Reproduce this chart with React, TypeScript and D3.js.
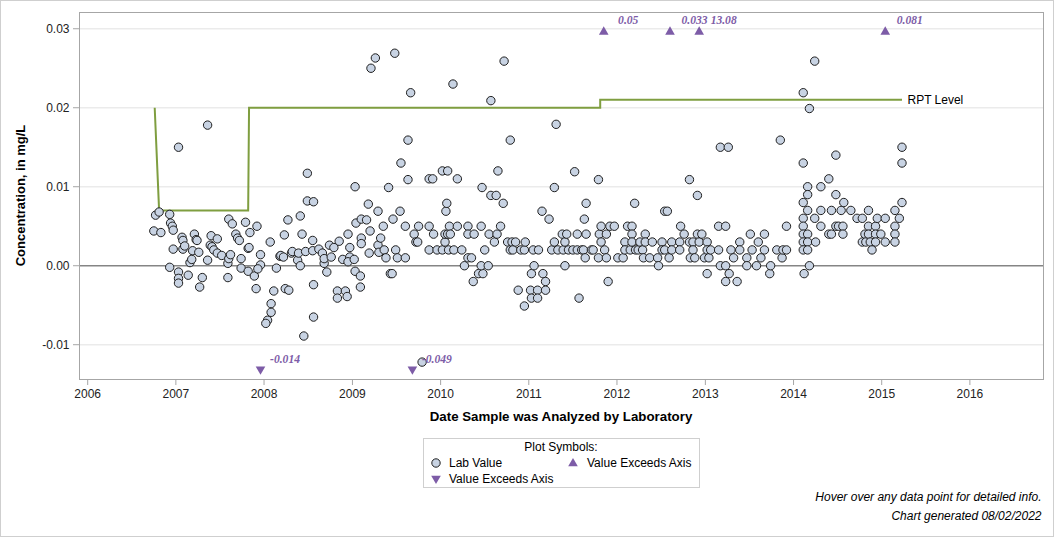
import * as React from "react";
import { scaleTime, scaleLinear, line, timeYear, timeFormat, symbol, symbolTriangle } from "d3";

// lab values: [decimal year analyzed, concentration mg/L]
const lab2006 = [
  [2006.75, 0.0044], [2006.77, 0.0064], [2006.81, 0.0068], [2006.83, 0.0042], [2006.93, 0.0065],
  [2006.94, 0.0054], [2006.96, 0.005], [2006.97, 0.0045], [2006.97, 0.0021], [2006.93, -0.0002],
];
const lab2007 = [
  [2007.03, -0.0008], [2007.03, -0.0016], [2007.03, -0.0022], [2007.03, 0.015], [2007.07, 0.0036],
  [2007.08, 0.0032], [2007.08, 0.0021], [2007.1, 0.0025], [2007.14, -0.0012], [2007.21, 0.004],
  [2007.23, 0.0033], [2007.24, 0.0032], [2007.19, 0.0019], [2007.16, 0.0004], [2007.18, 0.0008],
  [2007.26, 0.0017], [2007.3, -0.0015], [2007.27, -0.0027], [2007.36, 0.0007], [2007.36, 0.0178],
  [2007.4, 0.0038], [2007.47, 0.0034], [2007.39, 0.0026], [2007.41, 0.0024], [2007.43, 0.002],
  [2007.47, 0.0016], [2007.52, 0.0013], [2007.6, 0.0059], [2007.64, 0.0053], [2007.59, 0.0003],
  [2007.59, -0.0015], [2007.6, 0.0009], [2007.62, 0.0014], [2007.68, 0.004], [2007.7, 0.0035],
  [2007.72, 0.0032], [2007.74, 0.0009], [2007.74, -0.0003], [2007.79, 0.0055], [2007.84, 0.0042],
  [2007.82, 0.0022], [2007.83, 0.0023], [2007.82, -0.0007], [2007.92, 0.005], [2007.89, -0.0013],
  [2007.91, -0.0029], [2007.96, 0.0014], [2007.96, 0.0001], [2007.93, -0.0004],
];
const lab2008 = [
  [2008.07, 0.003], [2008.11, -0.0032], [2008.14, -0.0003], [2008.08, -0.0048], [2008.08, -0.0059],
  [2008.04, -0.0069], [2008.02, -0.0073], [2008.18, 0.0012], [2008.19, 0.0013], [2008.22, 0.0011],
  [2008.23, 0.0039], [2008.27, 0.0058], [2008.24, -0.0029], [2008.28, -0.0031], [2008.31, 0.0016],
  [2008.32, 0.0018], [2008.38, 0.0007], [2008.39, 0.0016], [2008.41, 0.0063], [2008.43, 0.004],
  [2008.41, 0.0], [2008.45, -0.0089], [2008.47, 0.0018], [2008.49, 0.0117], [2008.49, 0.0082],
  [2008.56, 0.0081], [2008.55, 0.0032], [2008.55, 0.0019], [2008.56, -0.0024], [2008.56, -0.0065],
  [2008.62, 0.0021], [2008.66, 0.0016], [2008.68, 0.0003], [2008.68, 0.0009], [2008.71, -0.0008],
  [2008.74, 0.0026], [2008.76, 0.0011], [2008.79, 0.0023], [2008.85, 0.0031], [2008.83, -0.0032],
  [2008.83, -0.0041], [2008.89, 0.0008], [2008.92, -0.0032], [2008.94, -0.0039], [2008.95, 0.004],
  [2008.97, 0.0023], [2008.97, 0.0011], [2008.95, 0.0005],
];
const lab2009 = [
  [2009.02, 0.0008], [2009.03, -0.0007], [2009.03, 0.01], [2009.04, 0.0054], [2009.09, -0.0013],
  [2009.09, -0.0027], [2009.1, 0.0059], [2009.16, 0.0058], [2009.1, 0.0035], [2009.1, 0.0028],
  [2009.18, 0.0078], [2009.2, 0.0044], [2009.19, 0.0016], [2009.21, 0.025], [2009.26, 0.0263],
  [2009.29, 0.0069], [2009.29, 0.0026], [2009.32, 0.0035], [2009.3, 0.0017], [2009.35, 0.005],
  [2009.36, 0.002], [2009.38, 0.001], [2009.41, 0.0099], [2009.43, -0.001], [2009.45, -0.001],
  [2009.46, 0.0059], [2009.48, 0.0269], [2009.49, 0.002], [2009.51, 0.001], [2009.54, 0.0069],
  [2009.55, 0.013], [2009.6, 0.005], [2009.6, 0.001], [2009.63, 0.0109], [2009.63, 0.0159],
  [2009.66, 0.0219], [2009.7, 0.004], [2009.75, 0.005], [2009.72, 0.003], [2009.74, 0.003],
  [2009.79, -0.0122], [2009.87, 0.002], [2009.87, 0.005], [2009.87, 0.011], [2009.91, 0.011],
  [2009.92, 0.004], [2009.96, 0.002],
];
const lab2010 = [
  [2010.02, 0.012], [2010.02, 0.002], [2010.05, 0.003], [2010.05, 0.004], [2010.06, 0.0069],
  [2010.07, 0.0079], [2010.08, 0.012], [2010.08, 0.004], [2010.09, 0.002], [2010.1, 0.005],
  [2010.11, 0.004], [2010.14, 0.023], [2010.15, 0.002], [2010.19, 0.011], [2010.19, 0.005],
  [2010.24, 0.002], [2010.27, 0.0], [2010.31, 0.005], [2010.31, 0.004], [2010.38, 0.004],
  [2010.31, 0.001], [2010.35, 0.001], [2010.37, -0.002], [2010.43, -0.001], [2010.48, -0.001],
  [2010.46, 0.0], [2010.54, 0.0], [2010.46, 0.005], [2010.47, 0.0099], [2010.5, 0.002],
  [2010.55, 0.004], [2010.57, 0.0209], [2010.57, 0.0089], [2010.63, 0.0089], [2010.61, 0.003],
  [2010.64, 0.004], [2010.65, 0.012], [2010.68, 0.005], [2010.71, 0.0079], [2010.72, 0.0259],
  [2010.76, 0.003], [2010.79, 0.0159], [2010.79, 0.002], [2010.81, 0.003], [2010.82, 0.002],
  [2010.85, 0.003], [2010.88, -0.0031], [2010.91, 0.002], [2010.95, 0.002], [2010.95, -0.0051],
  [2010.96, 0.003],
];
const lab2011 = [
  [2011.02, -0.0031], [2011.03, -0.0041], [2011.03, -0.001], [2011.05, 0.002], [2011.06, 0.0],
  [2011.1, -0.0031], [2011.1, -0.0041], [2011.11, 0.002], [2011.15, 0.0069], [2011.16, -0.001],
  [2011.19, -0.002], [2011.19, -0.0031], [2011.23, 0.0059], [2011.26, 0.002], [2011.29, 0.003],
  [2011.29, 0.0099], [2011.31, 0.0179], [2011.33, 0.002], [2011.38, 0.004], [2011.39, 0.002],
  [2011.41, 0.003], [2011.41, 0.0], [2011.43, 0.004], [2011.45, 0.002], [2011.5, 0.002],
  [2011.52, 0.0119], [2011.55, 0.002], [2011.55, 0.004], [2011.57, -0.0041], [2011.6, 0.002],
  [2011.62, 0.002], [2011.63, 0.0059], [2011.64, 0.001], [2011.65, 0.0079], [2011.65, 0.004],
  [2011.71, 0.002], [2011.73, 0.002], [2011.79, 0.0109], [2011.79, 0.001], [2011.8, 0.004],
  [2011.82, 0.005], [2011.82, 0.003], [2011.86, 0.002], [2011.88, 0.004], [2011.88, 0.001],
  [2011.9, -0.002], [2011.92, 0.005], [2011.97, 0.005],
];
const lab2012 = [
  [2012.01, 0.001], [2012.07, 0.001], [2012.09, 0.003], [2012.09, 0.002], [2012.12, 0.005],
  [2012.15, 0.002], [2012.17, 0.005], [2012.17, 0.004], [2012.17, 0.003], [2012.2, 0.0079],
  [2012.21, 0.002], [2012.24, 0.002], [2012.26, 0.003], [2012.29, 0.002], [2012.3, 0.001],
  [2012.32, 0.004], [2012.32, 0.003], [2012.37, 0.001], [2012.4, 0.003], [2012.46, 0.001],
  [2012.47, 0.0], [2012.51, 0.003], [2012.51, 0.002], [2012.54, 0.0069], [2012.57, 0.0069],
  [2012.54, 0.002], [2012.59, 0.001], [2012.62, 0.003], [2012.62, 0.002], [2012.71, 0.003],
  [2012.71, 0.002], [2012.72, 0.005], [2012.76, 0.004], [2012.82, 0.0109], [2012.82, 0.003],
  [2012.83, 0.001], [2012.86, 0.003], [2012.86, 0.002], [2012.88, 0.001], [2012.91, 0.0089],
  [2012.91, 0.004], [2012.93, 0.003], [2012.96, 0.004], [2012.99, 0.001],
];
const lab2013 = [
  [2013.02, 0.003], [2013.02, -0.001], [2013.02, 0.002], [2013.04, 0.001], [2013.06, 0.002],
  [2013.15, 0.005], [2013.15, 0.002], [2013.17, 0.015], [2013.17, 0.0], [2013.23, 0.005],
  [2013.23, 0.0], [2013.23, -0.002], [2013.26, 0.015], [2013.27, -0.001], [2013.29, 0.002],
  [2013.32, 0.001], [2013.36, -0.002], [2013.39, 0.003], [2013.39, 0.002], [2013.47, 0.001],
  [2013.47, 0.0], [2013.51, 0.004], [2013.53, 0.002], [2013.58, 0.0], [2013.6, 0.003],
  [2013.63, 0.001], [2013.67, 0.004], [2013.67, 0.002], [2013.73, -0.001], [2013.74, 0.0],
  [2013.81, 0.002], [2013.85, 0.0159], [2013.87, 0.001], [2013.88, 0.002], [2013.92, 0.002],
  [2013.92, 0.005],
];
const lab2014 = [
  [2014.11, 0.0219], [2014.11, 0.013], [2014.11, 0.008], [2014.11, 0.006], [2014.11, 0.005],
  [2014.11, 0.004], [2014.11, 0.003], [2014.11, 0.002], [2014.12, -0.001], [2014.16, 0.01],
  [2014.16, 0.009], [2014.16, 0.007], [2014.16, 0.004], [2014.16, 0.003], [2014.16, 0.002],
  [2014.18, 0.0199], [2014.18, 0.0], [2014.24, 0.0259], [2014.24, 0.006], [2014.25, 0.003],
  [2014.31, 0.01], [2014.31, 0.007], [2014.31, 0.005], [2014.4, 0.004], [2014.4, 0.011],
  [2014.43, 0.007], [2014.43, 0.004], [2014.48, 0.014], [2014.48, 0.009], [2014.48, 0.005],
  [2014.51, 0.005], [2014.54, 0.007], [2014.56, 0.005], [2014.56, 0.004], [2014.57, 0.008],
  [2014.65, 0.007], [2014.72, 0.006], [2014.78, 0.006], [2014.78, 0.003], [2014.81, 0.004],
  [2014.82, 0.003], [2014.85, 0.007], [2014.85, 0.005], [2014.85, 0.004], [2014.87, 0.003],
  [2014.89, 0.002], [2014.93, 0.005], [2014.93, 0.004], [2014.93, 0.003], [2014.95, 0.006],
  [2014.99, 0.004],
];
const lab2015 = [
  [2015.04, 0.006], [2015.04, 0.003], [2015.15, 0.007], [2015.15, 0.005], [2015.15, 0.004],
  [2015.15, 0.003], [2015.2, 0.006], [2015.23, 0.015], [2015.23, 0.013], [2015.23, 0.008],
];

// reporting level step line
const rptLevel = [
  [2006.76, 0.02], [2006.81, 0.007], [2007.82, 0.007], [2007.83, 0.02],
  [2011.81, 0.02], [2011.81, 0.021], [2015.23, 0.021],
];

// values off the axis (drawn as triangles with their real value)
const aboveAxis = [
  { t: 2011.85, label: "0.05" },
  { t: 2012.6, label: "0.033" },
  { t: 2012.93, label: "13.08" },
  { t: 2015.04, label: "0.081" },
];
const belowAxis = [
  { t: 2007.96, label: "-0.014" },
  { t: 2009.68, label: "-0.049" },
];
const aboveMarkValue = 0.0297;
const belowMarkValue = -0.0132;

const yTicks = [-0.01, 0, 0.01, 0.02, 0.03];

const toDate = (t: number) => {
  const y = Math.floor(t);
  const a = new Date(y, 0, 1).getTime();
  const b = new Date(y + 1, 0, 1).getTime();
  return new Date(a + (t - y) * (b - a));
};

const W = 1056, H = 538;
const left = 79, right = 1043, top = 12, bottom = 379;
const SANS = "'Liberation Sans', Arial, sans-serif";
const SERIF = "'Liberation Serif', 'Times New Roman', serif";
const PURPLE = "#7d5ca7";

export default function App() {
  const allLab = [
    ...lab2006, ...lab2007, ...lab2008, ...lab2009, ...lab2010,
    ...lab2011, ...lab2012, ...lab2013, ...lab2014, ...lab2015,
  ];

  const x = scaleTime()
    .domain([toDate(2005.9014), toDate(2016.827)])
    .range([left, right]);
  const y = scaleLinear().domain([-0.01434, 0.03212]).range([bottom, top]);

  const xTicks = x.ticks(timeYear.every(1));
  const fmtYear = timeFormat("%Y");

  const rptPath = line<number[]>()
    .x(d => x(toDate(d[0])))
    .y(d => y(d[1]))(rptLevel);
  const rptEnd = rptLevel[rptLevel.length - 1];

  const tri = symbol().type(symbolTriangle).size(40)();

  return (
    <svg width={W} height={H} style={{ position: "absolute", left: 0, top: 0, background: "#fff" }}>
      <rect x={0.5} y={0.5} width={1053} height={536} fill="#fff" stroke="#cfcfcf" />

      {/* grid */}
      {yTicks.map(t => (
        <line key={"g" + t} x1={left} x2={right} y1={y(t)} y2={y(t)}
          stroke={t === 0 ? "#858585" : "#ebebeb"} strokeWidth={t === 0 ? 1.6 : 1.4} />
      ))}

      {/* frame */}
      <rect x={left + 0.5} y={top + 0.5} width={right - left} height={bottom - top}
        fill="none" stroke="#a6a6a6" />

      {/* y axis */}
      {yTicks.map(t => (
        <g key={"y" + t}>
          <line x1={left - 6} x2={left} y1={y(t)} y2={y(t)} stroke="#a6a6a6" />
          <text x={69.5} y={y(t) + 4.3} textAnchor="end" fontFamily={SANS} fontSize={12} fill="#222">
            {t === 0 ? "0.00" : t.toFixed(2)}
          </text>
        </g>
      ))}
      <text transform={`translate(24.5,${(top + bottom) / 2}) rotate(-90)`} textAnchor="middle"
        fontFamily={SANS} fontSize={13} fontWeight="bold" fill="#000">
        Concentration, in mg/L
      </text>

      {/* x axis */}
      {xTicks.map(d => (
        <g key={"x" + d.getTime()}>
          <line x1={x(d)} x2={x(d)} y1={bottom + 0.5} y2={bottom + 6} stroke="#a6a6a6" />
          <text x={x(d)} y={398} textAnchor="middle" fontFamily={SANS} fontSize={12} fill="#222">
            {fmtYear(d)}
          </text>
        </g>
      ))}
      <text x={561} y={420.5} textAnchor="middle" fontFamily={SANS} fontSize={13.3} fontWeight="bold" fill="#000">
        Date Sample was Analyzed by Laboratory
      </text>

      {/* RPT level */}
      <path d={rptPath || ""} fill="none" stroke="#7f9e40" strokeWidth={2} />
      <text x={x(toDate(rptEnd[0])) + 5.5} y={y(rptEnd[1]) + 4.3} fontFamily={SANS} fontSize={12} fill="#000">
        RPT Level
      </text>

      {/* lab values */}
      {allLab.map((d, i) => (
        <circle key={"p" + i} cx={x(toDate(d[0]))} cy={y(d[1])} r={4.2}
          fill="#c8d3e3" stroke="#1e1e1e" strokeWidth={1} />
      ))}

      {/* off-axis markers */}
      {aboveAxis.map(d => {
        const cx = x(toDate(d.t));
        const cy = y(aboveMarkValue);
        return (
          <g key={"a" + d.t}>
            <path d={tri || ""} transform={`translate(${cx},${cy + 0.8})`} fill={PURPLE} />
            <text x={cx + 24.5} y={cy - 7.6} textAnchor="middle" fontFamily={SERIF}
              fontStyle="italic" fontWeight="bold" fontSize={11.6} fill={PURPLE}>{d.label}</text>
          </g>
        );
      })}
      {belowAxis.map(d => {
        const cx = x(toDate(d.t));
        const cy = y(belowMarkValue);
        return (
          <g key={"b" + d.t}>
            <path d={tri || ""} transform={`translate(${cx},${cy - 0.8}) rotate(180)`} fill={PURPLE} />
            <text x={cx + 24.5} y={cy - 7.4} textAnchor="middle" fontFamily={SERIF}
              fontStyle="italic" fontWeight="bold" fontSize={11.6} fill={PURPLE}>{d.label}</text>
          </g>
        );
      })}

      {/* legend */}
      <rect x={423.5} y={438.5} width={276} height={49} fill="#fff" stroke="#cfcfcf" />
      <text x={561} y={451} textAnchor="middle" fontFamily={SANS} fontSize={12} fill="#000">Plot Symbols:</text>
      <circle cx={436} cy={463} r={4.2} fill="#c8d3e3" stroke="#1e1e1e" />
      <text x={449} y={467.3} fontFamily={SANS} fontSize={12} fill="#000">Lab Value</text>
      <path d={tri || ""} transform="translate(573,463.5)" fill={PURPLE} />
      <text x={587} y={467.3} fontFamily={SANS} fontSize={12} fill="#000">Value Exceeds Axis</text>
      <path d={tri || ""} transform="translate(436,478.5) rotate(180)" fill={PURPLE} />
      <text x={449} y={483.3} fontFamily={SANS} fontSize={12} fill="#000">Value Exceeds Axis</text>

      {/* footnotes */}
      <text x={1041.5} y={501} textAnchor="end" fontFamily={SANS} fontSize={12} fontStyle="italic" fill="#000">
        Hover over any data point for detailed info.
      </text>
      <text x={1041.5} y={520} textAnchor="end" fontFamily={SANS} fontSize={12} fontStyle="italic" fill="#000">
        Chart generated 08/02/2022
      </text>
    </svg>
  );
}
